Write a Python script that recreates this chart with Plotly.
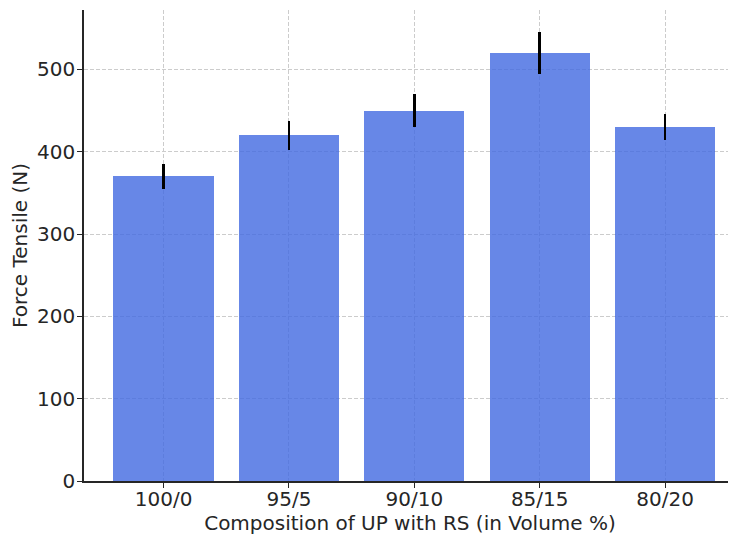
import plotly.graph_objects as go

categories = ["100/0", "95/5", "90/10", "85/15", "80/20"]
force_values = [370, 420, 450, 520, 430]
force_errors = [15, 18, 20, 25, 16]
y_ticks = [0, 100, 200, 300, 400, 500]

x_pos = list(range(len(categories)))

fig = go.Figure()
fig.add_trace(go.Bar(
    x=x_pos,
    y=force_values,
    width=0.8,
    marker=dict(color="rgba(65,105,225,0.8)", line=dict(width=0)),
    error_y=dict(type="data", array=force_errors, visible=True,
                 color="black", thickness=2.5, width=0),
))

# page body has an 8px margin, so the figure is sized/offset to compensate
font_family = "DejaVu Sans"
fig.update_layout(
    width=728, height=530,
    margin=dict(l=76, r=0, t=2, b=57),
    plot_bgcolor="white", paper_bgcolor="white",
    showlegend=False,
    font=dict(family=font_family, size=20, color="#262626"),
    bargap=0,
)
fig.update_xaxes(
    range=[-0.635, 4.566],
    automargin=False,
    tickmode="array", tickvals=x_pos, ticktext=categories,
    tickfont=dict(size=20),
    ticklabelstandoff=-6,
    showgrid=True, gridcolor="#cccccc", griddash="4px,2px", gridwidth=1,
    showline=True, linecolor="#262626", linewidth=1.5,
    ticks="outside", ticklen=5, tickwidth=1.2, tickcolor="#262626",
    title=dict(text="Composition of UP with RS (in Volume %)", standoff=5, font=dict(size=20)),
    zeroline=False,
)
fig.update_yaxes(
    range=[0, 572.25],
    automargin=False,
    tickmode="array", tickvals=y_ticks,
    tickfont=dict(size=20),
    ticklabelstandoff=-2,
    showgrid=True, gridcolor="#cccccc", griddash="4px,2px", gridwidth=1,
    showline=True, linecolor="#262626", linewidth=1.5,
    ticks="outside", ticklen=5, tickwidth=1.2, tickcolor="#262626",
    title=dict(text="Force Tensile (N)", standoff=6, font=dict(size=20)),
    zeroline=False,
)

fig.write_html("out.html")
